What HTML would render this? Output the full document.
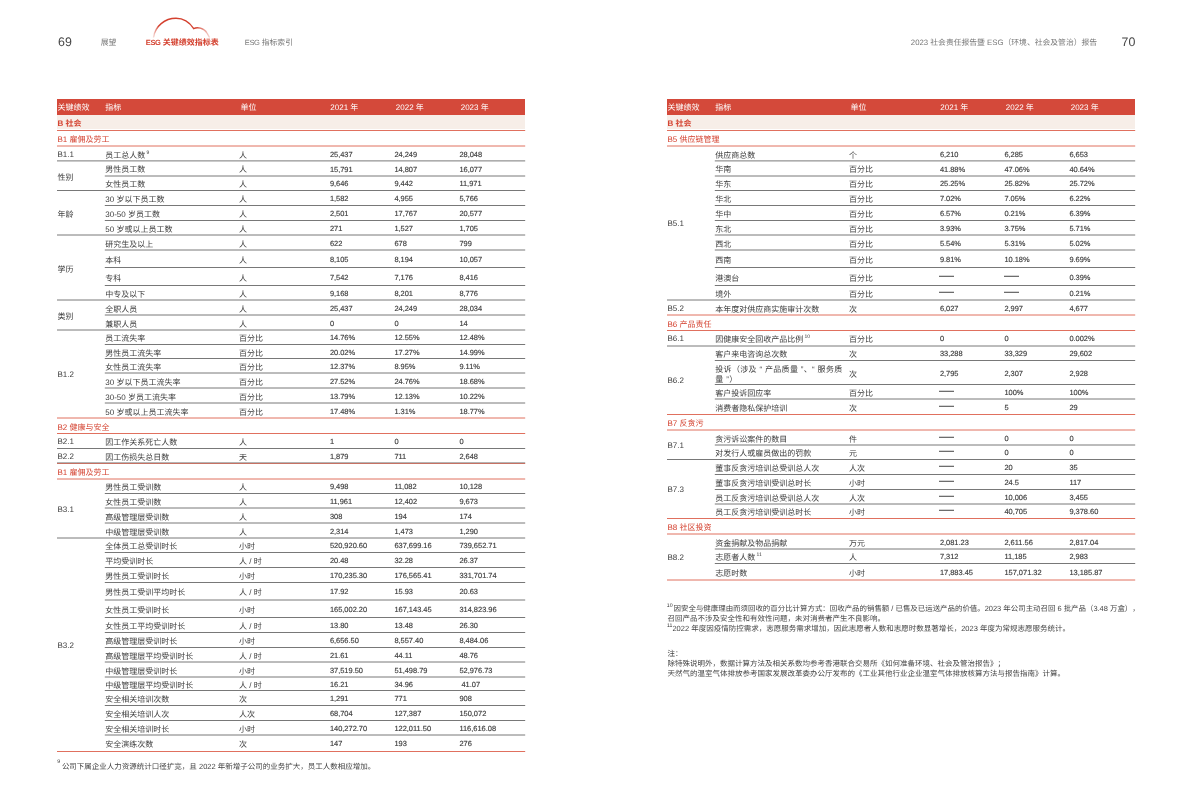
<!DOCTYPE html>
<html lang="zh-CN"><head><meta charset="utf-8"><title>ESG 关键绩效指标表</title>
<style>
*{margin:0;padding:0;box-sizing:border-box}
html,body{width:1192px;height:808px;background:#fff;overflow:hidden}
body{position:relative;text-rendering:geometricPrecision;text-spacing-trim:space-all;font-family:"Liberation Sans","Noto Sans CJK SC",sans-serif;color:#3c3c3c}
.t,.th,.tb,.ts{position:absolute;font-size:8.0px;line-height:1;white-space:nowrap;transform:translateY(calc(-50% + 1.5px))}
.th{color:#fff}
.lb{margin-top:-1px}
.n{font-size:7.45px;margin-left:0.6px;margin-top:-0.8px;-webkit-text-stroke:0.15px #3c3c3c}
.tb{color:#d4412f;font-weight:bold}
.ts{color:#d4412f}
.hdr{position:absolute;background:#d4493a}
.beige{position:absolute;background:#f7eee8}
.sup{font-size:5px;vertical-align:top;position:relative;top:-1.6px;margin-left:1.3px;color:#333}
.dash{display:inline-block;width:15px;height:1px;background:#444;vertical-align:middle;position:relative;top:-1.7px;left:-0.9px}
.wrap{display:inline-block;white-space:normal;width:129px;line-height:10px;letter-spacing:0.32px;position:relative;top:0.8px}
svg{position:absolute;left:0;top:0}
#tx{position:absolute;left:0;top:0;width:1192px;height:808px;will-change:transform}
.nav{position:absolute;font-size:7.8px;line-height:1;white-space:nowrap;color:#777;transform:translateY(calc(-50% + 1.2px))}
.pg{font-size:12.4px;color:#444;transform:translateY(-50%)}
.cur{color:#d4412f;font-weight:bold;font-size:8px}
.esg{font-size:7.5px;letter-spacing:-0.35px}
.fn{position:absolute;font-size:7.5px;line-height:1;white-space:nowrap;color:#444;transform:translateY(calc(-50% + 1.2px))}
.fsup{font-size:5.2px;vertical-align:top;position:relative;top:-0.7px;margin-right:1px;color:#333}
</style></head><body>

<svg width="1192" height="60" style="left:0;top:0" viewBox="0 0 1192 60">
<defs><linearGradient id="ag" x1="153" y1="0" x2="210" y2="0" gradientUnits="userSpaceOnUse">
<stop offset="0" stop-color="#d4412f" stop-opacity="0.15"/><stop offset="0.1" stop-color="#d4412f" stop-opacity="1"/>
<stop offset="0.75" stop-color="#d4412f" stop-opacity="1"/><stop offset="1" stop-color="#d4412f" stop-opacity="0.2"/></linearGradient></defs>
<path d="M153.4 37.5 C155 26 165 18.3 176 18.3 C184 18.3 190 23 193.7 28.6 C197 27 204 27.5 207 33 L209.6 37.5" fill="none" stroke="url(#ag)" stroke-width="1.4"/>
</svg>

<div id="tx"><div class="hdr" style="left:57.00px;top:99px;width:468.2px;height:16px"></div><div class="th" style="left:57.50px;top:106.20px;">关键绩效</div><div class="th" style="left:105.30px;top:106.20px;">指标</div><div class="th" style="left:240.50px;top:106.20px;">单位</div><div class="th" style="left:330.30px;top:106.20px;">2021 年</div><div class="th" style="left:395.80px;top:106.20px;">2022 年</div><div class="th" style="left:460.70px;top:106.20px;">2023 年</div><div class="beige" style="left:57.00px;top:115px;width:468.2px;height:14px"></div><div class="tb" style="left:57.50px;top:122.30px;">B 社会</div><div class="ts" style="left:57.50px;top:138.25px;">B1 雇佣及劳工</div><div class="t" style="left:105.30px;top:154.35px;">员工总人数<span class="sup">9</span></div><div class="t" style="left:239.00px;top:154.35px;">人</div><div class="t n" style="left:329.30px;top:153.45px;">25,437</div><div class="t n" style="left:393.80px;top:153.45px;">24,249</div><div class="t n" style="left:458.80px;top:153.45px;">28,048</div><div class="t lb" style="left:57.50px;top:154.15px;">B1.1</div><div class="t" style="left:105.30px;top:168.45px;">男性员工数</div><div class="t" style="left:239.00px;top:168.45px;">人</div><div class="t n" style="left:329.30px;top:168.45px;">15,791</div><div class="t n" style="left:393.80px;top:168.45px;">14,807</div><div class="t n" style="left:458.80px;top:168.45px;">16,077</div><div class="t" style="left:105.30px;top:183.25px;">女性员工数</div><div class="t" style="left:239.00px;top:183.25px;">人</div><div class="t n" style="left:329.30px;top:183.25px;">9,646</div><div class="t n" style="left:393.80px;top:183.25px;">9,442</div><div class="t n" style="left:458.80px;top:183.25px;">11,971</div><div class="t" style="left:57.50px;top:175.70px;">性别</div><div class="t" style="left:105.30px;top:198.00px;">30 岁以下员工数</div><div class="t" style="left:239.00px;top:198.00px;">人</div><div class="t n" style="left:329.30px;top:198.00px;">1,582</div><div class="t n" style="left:393.80px;top:198.00px;">4,955</div><div class="t n" style="left:458.80px;top:198.00px;">5,766</div><div class="t" style="left:105.30px;top:213.00px;">30-50 岁员工数</div><div class="t" style="left:239.00px;top:213.00px;">人</div><div class="t n" style="left:329.30px;top:213.00px;">2,501</div><div class="t n" style="left:393.80px;top:213.00px;">17,767</div><div class="t n" style="left:458.80px;top:213.00px;">20,577</div><div class="t" style="left:105.30px;top:227.75px;">50 岁或以上员工数</div><div class="t" style="left:239.00px;top:227.75px;">人</div><div class="t n" style="left:329.30px;top:227.75px;">271</div><div class="t n" style="left:393.80px;top:227.75px;">1,527</div><div class="t n" style="left:458.80px;top:227.75px;">1,705</div><div class="t" style="left:57.50px;top:212.75px;">年龄</div><div class="t" style="left:105.30px;top:242.50px;">研究生及以上</div><div class="t" style="left:239.00px;top:242.50px;">人</div><div class="t n" style="left:329.30px;top:242.50px;">622</div><div class="t n" style="left:393.80px;top:242.50px;">678</div><div class="t n" style="left:458.80px;top:242.50px;">799</div><div class="t" style="left:105.30px;top:258.75px;">本科</div><div class="t" style="left:239.00px;top:258.75px;">人</div><div class="t n" style="left:329.30px;top:258.75px;">8,105</div><div class="t n" style="left:393.80px;top:258.75px;">8,194</div><div class="t n" style="left:458.80px;top:258.75px;">10,057</div><div class="t" style="left:105.30px;top:276.50px;">专科</div><div class="t" style="left:239.00px;top:276.50px;">人</div><div class="t n" style="left:329.30px;top:276.50px;">7,542</div><div class="t n" style="left:393.80px;top:276.50px;">7,176</div><div class="t n" style="left:458.80px;top:276.50px;">8,416</div><div class="t" style="left:105.30px;top:292.75px;">中专及以下</div><div class="t" style="left:239.00px;top:292.75px;">人</div><div class="t n" style="left:329.30px;top:292.75px;">9,168</div><div class="t n" style="left:393.80px;top:292.75px;">8,201</div><div class="t n" style="left:458.80px;top:292.75px;">8,776</div><div class="t" style="left:57.50px;top:267.50px;">学历</div><div class="t" style="left:105.30px;top:307.50px;">全职人员</div><div class="t" style="left:239.00px;top:307.50px;">人</div><div class="t n" style="left:329.30px;top:307.50px;">25,437</div><div class="t n" style="left:393.80px;top:307.50px;">24,249</div><div class="t n" style="left:458.80px;top:307.50px;">28,034</div><div class="t" style="left:105.30px;top:322.50px;">兼职人员</div><div class="t" style="left:239.00px;top:322.50px;">人</div><div class="t n" style="left:329.30px;top:322.50px;">0</div><div class="t n" style="left:393.80px;top:322.50px;">0</div><div class="t n" style="left:458.80px;top:322.50px;">14</div><div class="t" style="left:57.50px;top:315.00px;">类别</div><div class="t" style="left:105.30px;top:337.25px;">员工流失率</div><div class="t" style="left:239.00px;top:337.25px;">百分比</div><div class="t n" style="left:329.30px;top:337.25px;">14.76%</div><div class="t n" style="left:393.80px;top:337.25px;">12.55%</div><div class="t n" style="left:458.80px;top:337.25px;">12.48%</div><div class="t" style="left:105.30px;top:351.50px;">男性员工流失率</div><div class="t" style="left:239.00px;top:351.50px;">百分比</div><div class="t n" style="left:329.30px;top:351.50px;">20.02%</div><div class="t n" style="left:393.80px;top:351.50px;">17.27%</div><div class="t n" style="left:458.80px;top:351.50px;">14.99%</div><div class="t" style="left:105.30px;top:365.75px;">女性员工流失率</div><div class="t" style="left:239.00px;top:365.75px;">百分比</div><div class="t n" style="left:329.30px;top:365.75px;">12.37%</div><div class="t n" style="left:393.80px;top:365.75px;">8.95%</div><div class="t n" style="left:458.80px;top:365.75px;">9.11%</div><div class="t" style="left:105.30px;top:380.50px;">30 岁以下员工流失率</div><div class="t" style="left:239.00px;top:380.50px;">百分比</div><div class="t n" style="left:329.30px;top:380.50px;">27.52%</div><div class="t n" style="left:393.80px;top:380.50px;">24.76%</div><div class="t n" style="left:458.80px;top:380.50px;">18.68%</div><div class="t" style="left:105.30px;top:395.50px;">30-50 岁员工流失率</div><div class="t" style="left:239.00px;top:395.50px;">百分比</div><div class="t n" style="left:329.30px;top:395.50px;">13.79%</div><div class="t n" style="left:393.80px;top:395.50px;">12.13%</div><div class="t n" style="left:458.80px;top:395.50px;">10.22%</div><div class="t" style="left:105.30px;top:410.50px;">50 岁或以上员工流失率</div><div class="t" style="left:239.00px;top:410.50px;">百分比</div><div class="t n" style="left:329.30px;top:410.50px;">17.48%</div><div class="t n" style="left:393.80px;top:410.50px;">1.31%</div><div class="t n" style="left:458.80px;top:410.50px;">18.77%</div><div class="t lb" style="left:57.50px;top:374.00px;">B1.2</div><div class="ts" style="left:57.50px;top:425.75px;">B2 健康与安全</div><div class="t" style="left:105.30px;top:441.00px;">因工作关系死亡人数</div><div class="t" style="left:239.00px;top:441.00px;">人</div><div class="t n" style="left:329.30px;top:441.00px;">1</div><div class="t n" style="left:393.80px;top:441.00px;">0</div><div class="t n" style="left:458.80px;top:441.00px;">0</div><div class="t lb" style="left:57.50px;top:441.00px;">B2.1</div><div class="t" style="left:105.30px;top:456.00px;">因工伤损失总日数</div><div class="t" style="left:239.00px;top:456.00px;">天</div><div class="t n" style="left:329.30px;top:456.00px;">1,879</div><div class="t n" style="left:393.80px;top:456.00px;">711</div><div class="t n" style="left:458.80px;top:456.00px;">2,648</div><div class="t lb" style="left:57.50px;top:456.00px;">B2.2</div><div class="ts" style="left:57.50px;top:471.25px;">B1 雇佣及劳工</div><div class="t" style="left:105.30px;top:486.25px;">男性员工受训数</div><div class="t" style="left:239.00px;top:486.25px;">人</div><div class="t n" style="left:329.30px;top:486.25px;">9,498</div><div class="t n" style="left:393.80px;top:486.25px;">11,082</div><div class="t n" style="left:458.80px;top:486.25px;">10,128</div><div class="t" style="left:105.30px;top:500.75px;">女性员工受训数</div><div class="t" style="left:239.00px;top:500.75px;">人</div><div class="t n" style="left:329.30px;top:500.75px;">11,961</div><div class="t n" style="left:393.80px;top:500.75px;">12,402</div><div class="t n" style="left:458.80px;top:500.75px;">9,673</div><div class="t" style="left:105.30px;top:515.50px;">高级管理层受训数</div><div class="t" style="left:239.00px;top:515.50px;">人</div><div class="t n" style="left:329.30px;top:515.50px;">308</div><div class="t n" style="left:393.80px;top:515.50px;">194</div><div class="t n" style="left:458.80px;top:515.50px;">174</div><div class="t" style="left:105.30px;top:530.50px;">中级管理层受训数</div><div class="t" style="left:239.00px;top:530.50px;">人</div><div class="t n" style="left:329.30px;top:530.50px;">2,314</div><div class="t n" style="left:393.80px;top:530.50px;">1,473</div><div class="t n" style="left:458.80px;top:530.50px;">1,290</div><div class="t lb" style="left:57.50px;top:508.50px;">B3.1</div><div class="t" style="left:105.30px;top:545.25px;">全体员工总受训时长</div><div class="t" style="left:239.00px;top:545.25px;">小时</div><div class="t n" style="left:329.30px;top:545.25px;">520,920.60</div><div class="t n" style="left:393.80px;top:545.25px;">637,699.16</div><div class="t n" style="left:458.80px;top:545.25px;">739,652.71</div><div class="t" style="left:105.30px;top:560.00px;">平均受训时长</div><div class="t" style="left:239.00px;top:560.00px;">人 / 时</div><div class="t n" style="left:329.30px;top:560.00px;">20.48</div><div class="t n" style="left:393.80px;top:560.00px;">32.28</div><div class="t n" style="left:458.80px;top:560.00px;">26.37</div><div class="t" style="left:105.30px;top:575.00px;">男性员工受训时长</div><div class="t" style="left:239.00px;top:575.00px;">小时</div><div class="t n" style="left:329.30px;top:575.00px;">170,235.30</div><div class="t n" style="left:393.80px;top:575.00px;">176,565.41</div><div class="t n" style="left:458.80px;top:575.00px;">331,701.74</div><div class="t" style="left:105.30px;top:591.25px;">男性员工受训平均时长</div><div class="t" style="left:239.00px;top:591.25px;">人 / 时</div><div class="t n" style="left:329.30px;top:591.25px;">17.92</div><div class="t n" style="left:393.80px;top:591.25px;">15.93</div><div class="t n" style="left:458.80px;top:591.25px;">20.63</div><div class="t" style="left:105.30px;top:608.75px;">女性员工受训时长</div><div class="t" style="left:239.00px;top:608.75px;">小时</div><div class="t n" style="left:329.30px;top:608.75px;">165,002.20</div><div class="t n" style="left:393.80px;top:608.75px;">167,143.45</div><div class="t n" style="left:458.80px;top:608.75px;">314,823.96</div><div class="t" style="left:105.30px;top:625.00px;">女性员工平均受训时长</div><div class="t" style="left:239.00px;top:625.00px;">人 / 时</div><div class="t n" style="left:329.30px;top:625.00px;">13.80</div><div class="t n" style="left:393.80px;top:625.00px;">13.48</div><div class="t n" style="left:458.80px;top:625.00px;">26.30</div><div class="t" style="left:105.30px;top:640.00px;">高级管理层受训时长</div><div class="t" style="left:239.00px;top:640.00px;">小时</div><div class="t n" style="left:329.30px;top:640.00px;">6,656.50</div><div class="t n" style="left:393.80px;top:640.00px;">8,557.40</div><div class="t n" style="left:458.80px;top:640.00px;">8,484.06</div><div class="t" style="left:105.30px;top:654.75px;">高级管理层平均受训时长</div><div class="t" style="left:239.00px;top:654.75px;">人 / 时</div><div class="t n" style="left:329.30px;top:654.75px;">21.61</div><div class="t n" style="left:393.80px;top:654.75px;">44.11</div><div class="t n" style="left:458.80px;top:654.75px;">48.76</div><div class="t" style="left:105.30px;top:669.50px;">中级管理层受训时长</div><div class="t" style="left:239.00px;top:669.50px;">小时</div><div class="t n" style="left:329.30px;top:669.50px;">37,519.50</div><div class="t n" style="left:393.80px;top:669.50px;">51,498.79</div><div class="t n" style="left:458.80px;top:669.50px;">52,976.73</div><div class="t" style="left:105.30px;top:683.75px;">中级管理层平均受训时长</div><div class="t" style="left:239.00px;top:683.75px;">人 / 时</div><div class="t n" style="left:329.30px;top:683.75px;">16.21</div><div class="t n" style="left:393.80px;top:683.75px;">34.96</div><div class="t n" style="left:458.80px;top:683.75px;">&nbsp;41.07</div><div class="t" style="left:105.30px;top:698.00px;">安全相关培训次数</div><div class="t" style="left:239.00px;top:698.00px;">次</div><div class="t n" style="left:329.30px;top:698.00px;">1,291</div><div class="t n" style="left:393.80px;top:698.00px;">771</div><div class="t n" style="left:458.80px;top:698.00px;">908</div><div class="t" style="left:105.30px;top:713.00px;">安全相关培训人次</div><div class="t" style="left:239.00px;top:713.00px;">人次</div><div class="t n" style="left:329.30px;top:713.00px;">68,704</div><div class="t n" style="left:393.80px;top:713.00px;">127,387</div><div class="t n" style="left:458.80px;top:713.00px;">150,072</div><div class="t" style="left:105.30px;top:727.75px;">安全相关培训时长</div><div class="t" style="left:239.00px;top:727.75px;">小时</div><div class="t n" style="left:329.30px;top:727.75px;">140,272.70</div><div class="t n" style="left:393.80px;top:727.75px;">122,011.50</div><div class="t n" style="left:458.80px;top:727.75px;">116,616.08</div><div class="t" style="left:105.30px;top:743.25px;">安全演练次数</div><div class="t" style="left:239.00px;top:743.25px;">次</div><div class="t n" style="left:329.30px;top:743.25px;">147</div><div class="t n" style="left:393.80px;top:743.25px;">193</div><div class="t n" style="left:458.80px;top:743.25px;">276</div><div class="t lb" style="left:57.50px;top:644.75px;">B3.2</div><div class="hdr" style="left:667.00px;top:99px;width:468.2px;height:16px"></div><div class="th" style="left:667.50px;top:106.20px;">关键绩效</div><div class="th" style="left:715.30px;top:106.20px;">指标</div><div class="th" style="left:850.50px;top:106.20px;">单位</div><div class="th" style="left:940.30px;top:106.20px;">2021 年</div><div class="th" style="left:1005.80px;top:106.20px;">2022 年</div><div class="th" style="left:1070.70px;top:106.20px;">2023 年</div><div class="beige" style="left:667.00px;top:115px;width:468.2px;height:14px"></div><div class="tb" style="left:667.50px;top:122.30px;">B 社会</div><div class="ts" style="left:667.50px;top:138.25px;">B5 供应链管理</div><div class="t" style="left:715.30px;top:154.35px;">供应商总数</div><div class="t" style="left:849.00px;top:154.35px;">个</div><div class="t n" style="left:939.30px;top:153.45px;">6,210</div><div class="t n" style="left:1003.80px;top:153.45px;">6,285</div><div class="t n" style="left:1068.80px;top:153.45px;">6,653</div><div class="t" style="left:715.30px;top:168.45px;">华南</div><div class="t" style="left:849.00px;top:168.45px;">百分比</div><div class="t n" style="left:939.30px;top:168.45px;">41.88%</div><div class="t n" style="left:1003.80px;top:168.45px;">47.06%</div><div class="t n" style="left:1068.80px;top:168.45px;">40.64%</div><div class="t" style="left:715.30px;top:183.25px;">华东</div><div class="t" style="left:849.00px;top:183.25px;">百分比</div><div class="t n" style="left:939.30px;top:183.25px;">25.25%</div><div class="t n" style="left:1003.80px;top:183.25px;">25.82%</div><div class="t n" style="left:1068.80px;top:183.25px;">25.72%</div><div class="t" style="left:715.30px;top:198.00px;">华北</div><div class="t" style="left:849.00px;top:198.00px;">百分比</div><div class="t n" style="left:939.30px;top:198.00px;">7.02%</div><div class="t n" style="left:1003.80px;top:198.00px;">7.05%</div><div class="t n" style="left:1068.80px;top:198.00px;">6.22%</div><div class="t" style="left:715.30px;top:213.00px;">华中</div><div class="t" style="left:849.00px;top:213.00px;">百分比</div><div class="t n" style="left:939.30px;top:213.00px;">6.57%</div><div class="t n" style="left:1003.80px;top:213.00px;">0.21%</div><div class="t n" style="left:1068.80px;top:213.00px;">6.39%</div><div class="t" style="left:715.30px;top:227.75px;">东北</div><div class="t" style="left:849.00px;top:227.75px;">百分比</div><div class="t n" style="left:939.30px;top:227.75px;">3.93%</div><div class="t n" style="left:1003.80px;top:227.75px;">3.75%</div><div class="t n" style="left:1068.80px;top:227.75px;">5.71%</div><div class="t" style="left:715.30px;top:242.50px;">西北</div><div class="t" style="left:849.00px;top:242.50px;">百分比</div><div class="t n" style="left:939.30px;top:242.50px;">5.54%</div><div class="t n" style="left:1003.80px;top:242.50px;">5.31%</div><div class="t n" style="left:1068.80px;top:242.50px;">5.02%</div><div class="t" style="left:715.30px;top:258.75px;">西南</div><div class="t" style="left:849.00px;top:258.75px;">百分比</div><div class="t n" style="left:939.30px;top:258.75px;">9.81%</div><div class="t n" style="left:1003.80px;top:258.75px;">10.18%</div><div class="t n" style="left:1068.80px;top:258.75px;">9.69%</div><div class="t" style="left:715.30px;top:276.50px;">港澳台</div><div class="t" style="left:849.00px;top:276.50px;">百分比</div><div class="t n" style="left:939.30px;top:276.50px;"><span class="dash"></span></div><div class="t n" style="left:1003.80px;top:276.50px;"><span class="dash"></span></div><div class="t n" style="left:1068.80px;top:276.50px;">0.39%</div><div class="t" style="left:715.30px;top:292.75px;">境外</div><div class="t" style="left:849.00px;top:292.75px;">百分比</div><div class="t n" style="left:939.30px;top:292.75px;"><span class="dash"></span></div><div class="t n" style="left:1003.80px;top:292.75px;"><span class="dash"></span></div><div class="t n" style="left:1068.80px;top:292.75px;">0.21%</div><div class="t lb" style="left:667.50px;top:223.00px;">B5.1</div><div class="t" style="left:715.30px;top:307.50px;">本年度对供应商实施审计次数</div><div class="t" style="left:849.00px;top:307.50px;">次</div><div class="t n" style="left:939.30px;top:307.50px;">6,027</div><div class="t n" style="left:1003.80px;top:307.50px;">2,997</div><div class="t n" style="left:1068.80px;top:307.50px;">4,677</div><div class="t lb" style="left:667.50px;top:307.50px;">B5.2</div><div class="ts" style="left:667.50px;top:322.75px;">B6 产品责任</div><div class="t" style="left:715.30px;top:338.25px;">因健康安全回收产品比例<span class="sup">10</span></div><div class="t" style="left:849.00px;top:338.25px;">百分比</div><div class="t n" style="left:939.30px;top:338.25px;">0</div><div class="t n" style="left:1003.80px;top:338.25px;">0</div><div class="t n" style="left:1068.80px;top:338.25px;">0.002%</div><div class="t lb" style="left:667.50px;top:338.25px;">B6.1</div><div class="t" style="left:715.30px;top:353.25px;">客户来电咨询总次数</div><div class="t" style="left:849.00px;top:353.25px;">次</div><div class="t n" style="left:939.30px;top:353.25px;">33,288</div><div class="t n" style="left:1003.80px;top:353.25px;">33,329</div><div class="t n" style="left:1068.80px;top:353.25px;">29,602</div><div class="t" style="left:715.30px;top:372.50px;"><span class="wrap">投诉（涉及 “ 产品质量 ”、“ 服务质量 ”）</span></div><div class="t" style="left:849.00px;top:372.50px;">次</div><div class="t n" style="left:939.30px;top:372.50px;">2,795</div><div class="t n" style="left:1003.80px;top:372.50px;">2,307</div><div class="t n" style="left:1068.80px;top:372.50px;">2,928</div><div class="t" style="left:715.30px;top:391.75px;">客户投诉回应率</div><div class="t" style="left:849.00px;top:391.75px;">百分比</div><div class="t n" style="left:939.30px;top:391.75px;"><span class="dash"></span></div><div class="t n" style="left:1003.80px;top:391.75px;">100%</div><div class="t n" style="left:1068.80px;top:391.75px;">100%</div><div class="t" style="left:715.30px;top:406.75px;">消费者隐私保护培训</div><div class="t" style="left:849.00px;top:406.75px;">次</div><div class="t n" style="left:939.30px;top:406.75px;"><span class="dash"></span></div><div class="t n" style="left:1003.80px;top:406.75px;">5</div><div class="t n" style="left:1068.80px;top:406.75px;">29</div><div class="t lb" style="left:667.50px;top:380.25px;">B6.2</div><div class="ts" style="left:667.50px;top:422.25px;">B7 反贪污</div><div class="t" style="left:715.30px;top:437.50px;">贪污诉讼案件的数目</div><div class="t" style="left:849.00px;top:437.50px;">件</div><div class="t n" style="left:939.30px;top:437.50px;"><span class="dash"></span></div><div class="t n" style="left:1003.80px;top:437.50px;">0</div><div class="t n" style="left:1068.80px;top:437.50px;">0</div><div class="t" style="left:715.30px;top:452.25px;">对发行人或雇员做出的罚款</div><div class="t" style="left:849.00px;top:452.25px;">元</div><div class="t n" style="left:939.30px;top:452.25px;"><span class="dash"></span></div><div class="t n" style="left:1003.80px;top:452.25px;">0</div><div class="t n" style="left:1068.80px;top:452.25px;">0</div><div class="t lb" style="left:667.50px;top:444.75px;">B7.1</div><div class="t" style="left:715.30px;top:467.00px;">董事反贪污培训总受训总人次</div><div class="t" style="left:849.00px;top:467.00px;">人次</div><div class="t n" style="left:939.30px;top:467.00px;"><span class="dash"></span></div><div class="t n" style="left:1003.80px;top:467.00px;">20</div><div class="t n" style="left:1068.80px;top:467.00px;">35</div><div class="t" style="left:715.30px;top:482.00px;">董事反贪污培训受训总时长</div><div class="t" style="left:849.00px;top:482.00px;">小时</div><div class="t n" style="left:939.30px;top:482.00px;"><span class="dash"></span></div><div class="t n" style="left:1003.80px;top:482.00px;">24.5</div><div class="t n" style="left:1068.80px;top:482.00px;">117</div><div class="t" style="left:715.30px;top:496.75px;">员工反贪污培训总受训总人次</div><div class="t" style="left:849.00px;top:496.75px;">人次</div><div class="t n" style="left:939.30px;top:496.75px;"><span class="dash"></span></div><div class="t n" style="left:1003.80px;top:496.75px;">10,006</div><div class="t n" style="left:1068.80px;top:496.75px;">3,455</div><div class="t" style="left:715.30px;top:511.25px;">员工反贪污培训受训总时长</div><div class="t" style="left:849.00px;top:511.25px;">小时</div><div class="t n" style="left:939.30px;top:511.25px;"><span class="dash"></span></div><div class="t n" style="left:1003.80px;top:511.25px;">40,705</div><div class="t n" style="left:1068.80px;top:511.25px;">9,378.60</div><div class="t lb" style="left:667.50px;top:489.00px;">B7.3</div><div class="ts" style="left:667.50px;top:526.25px;">B8 社区投资</div><div class="t" style="left:715.30px;top:541.50px;">资金捐献及物品捐献</div><div class="t" style="left:849.00px;top:541.50px;">万元</div><div class="t n" style="left:939.30px;top:541.50px;">2,081.23</div><div class="t n" style="left:1003.80px;top:541.50px;">2,611.56</div><div class="t n" style="left:1068.80px;top:541.50px;">2,817.04</div><div class="t" style="left:715.30px;top:556.25px;">志愿者人数<span class="sup">11</span></div><div class="t" style="left:849.00px;top:556.25px;">人</div><div class="t n" style="left:939.30px;top:556.25px;">7,312</div><div class="t n" style="left:1003.80px;top:556.25px;">11,185</div><div class="t n" style="left:1068.80px;top:556.25px;">2,983</div><div class="t" style="left:715.30px;top:571.75px;">志愿时数</div><div class="t" style="left:849.00px;top:571.75px;">小时</div><div class="t n" style="left:939.30px;top:571.75px;">17,883.45</div><div class="t n" style="left:1003.80px;top:571.75px;">157,071.32</div><div class="t n" style="left:1068.80px;top:571.75px;">13,185.87</div><div class="t lb" style="left:667.50px;top:557.00px;">B8.2</div><div class="nav pg" style="left:58.00px;top:41.90px;">69</div><div class="nav" style="left:100.80px;top:42.00px;">展望</div><div class="nav cur" style="left:145.80px;top:42.20px;"><span class="esg">ESG</span> 关键绩效指标表</div><div class="nav" style="left:244.80px;top:42.20px;"><span class="esg">ESG</span> 指标索引</div><div class="nav" style="left:910.80px;top:42.00px;">2023 社会责任报告暨 ESG（环境、社会及管治）报告</div><div class="nav pg" style="left:1121.50px;top:41.70px;">70</div><div class="fn" style="left:57.20px;top:765.50px;"><span class="fsup" style="margin-right:1.8px;top:-2.6px">9</span>公司下属企业人力资源统计口径扩宽，且 2022 年新增子公司的业务扩大，员工人数相应增加。</div><div class="fn" style="left:666.80px;top:608.00px;font-size:7.44px"><span class="fsup">10</span>因安全与健康理由而须回收的百分比计算方式：回收产品的销售额 / 已售及已运送产品的价值。2023 年公司主动召回 6 批产品（3.48 万盒），</div><div class="fn" style="left:667.40px;top:618.00px;">召回产品不涉及安全性和有效性问题，未对消费者产生不良影响。</div><div class="fn" style="left:667.00px;top:628.00px;"><span class="fsup" style="margin-right:0">11</span>2022 年度因疫情防控需求，志愿服务需求增加，因此志愿者人数和志愿时数显著增长，2023 年度为常规志愿服务统计。</div><div class="fn" style="left:667.40px;top:653.20px;">注：</div><div class="fn" style="left:667.40px;top:663.20px;">除特殊说明外，数据计算方法及相关系数均参考香港联合交易所《如何准备环境、社会及管治报告》；</div><div class="fn" style="left:667.40px;top:673.20px;">天然气的温室气体排放参考国家发展改革委办公厅发布的《工业其他行业企业温室气体排放核算方法与报告指南》计算。</div></div>
<svg width="1192" height="808" viewBox="0 0 1192 808"><line x1="57.00" y1="130.50" x2="525.20" y2="130.50" stroke="#e0705e" stroke-width="1.0"/><line x1="57.00" y1="146.00" x2="525.20" y2="146.00" stroke="#e0705e" stroke-width="1.0"/><line x1="57.00" y1="160.90" x2="525.20" y2="160.90" stroke="#787878" stroke-width="1.0"/><line x1="104.80" y1="176.00" x2="525.20" y2="176.00" stroke="#787878" stroke-width="1.0"/><line x1="57.00" y1="190.50" x2="525.20" y2="190.50" stroke="#787878" stroke-width="1.0"/><line x1="104.80" y1="205.50" x2="525.20" y2="205.50" stroke="#787878" stroke-width="1.0"/><line x1="104.80" y1="220.50" x2="525.20" y2="220.50" stroke="#787878" stroke-width="1.0"/><line x1="57.00" y1="235.00" x2="525.20" y2="235.00" stroke="#787878" stroke-width="1.0"/><line x1="104.80" y1="250.00" x2="525.20" y2="250.00" stroke="#787878" stroke-width="1.0"/><line x1="104.80" y1="267.50" x2="525.20" y2="267.50" stroke="#787878" stroke-width="1.0"/><line x1="104.80" y1="285.50" x2="525.20" y2="285.50" stroke="#787878" stroke-width="1.0"/><line x1="57.00" y1="300.00" x2="525.20" y2="300.00" stroke="#787878" stroke-width="1.0"/><line x1="104.80" y1="315.00" x2="525.20" y2="315.00" stroke="#787878" stroke-width="1.0"/><line x1="57.00" y1="330.00" x2="525.20" y2="330.00" stroke="#787878" stroke-width="1.0"/><line x1="104.80" y1="344.50" x2="525.20" y2="344.50" stroke="#787878" stroke-width="1.0"/><line x1="104.80" y1="358.50" x2="525.20" y2="358.50" stroke="#787878" stroke-width="1.0"/><line x1="104.80" y1="373.00" x2="525.20" y2="373.00" stroke="#787878" stroke-width="1.0"/><line x1="104.80" y1="388.00" x2="525.20" y2="388.00" stroke="#787878" stroke-width="1.0"/><line x1="104.80" y1="403.00" x2="525.20" y2="403.00" stroke="#787878" stroke-width="1.0"/><line x1="57.00" y1="418.00" x2="525.20" y2="418.00" stroke="#e0705e" stroke-width="1.0"/><line x1="57.00" y1="433.50" x2="525.20" y2="433.50" stroke="#e0705e" stroke-width="1.0"/><line x1="57.00" y1="448.50" x2="525.20" y2="448.50" stroke="#787878" stroke-width="1.0"/><line x1="57.00" y1="463.50" x2="525.20" y2="463.50" stroke="#e0705e" stroke-width="1.0"/><line x1="57.00" y1="479.00" x2="525.20" y2="479.00" stroke="#e0705e" stroke-width="1.0"/><line x1="104.80" y1="493.50" x2="525.20" y2="493.50" stroke="#787878" stroke-width="1.0"/><line x1="104.80" y1="508.00" x2="525.20" y2="508.00" stroke="#787878" stroke-width="1.0"/><line x1="104.80" y1="523.00" x2="525.20" y2="523.00" stroke="#787878" stroke-width="1.0"/><line x1="57.00" y1="538.00" x2="525.20" y2="538.00" stroke="#787878" stroke-width="1.0"/><line x1="104.80" y1="552.50" x2="525.20" y2="552.50" stroke="#787878" stroke-width="1.0"/><line x1="104.80" y1="567.50" x2="525.20" y2="567.50" stroke="#787878" stroke-width="1.0"/><line x1="104.80" y1="582.50" x2="525.20" y2="582.50" stroke="#787878" stroke-width="1.0"/><line x1="104.80" y1="600.00" x2="525.20" y2="600.00" stroke="#787878" stroke-width="1.0"/><line x1="104.80" y1="617.50" x2="525.20" y2="617.50" stroke="#787878" stroke-width="1.0"/><line x1="104.80" y1="632.50" x2="525.20" y2="632.50" stroke="#787878" stroke-width="1.0"/><line x1="104.80" y1="647.50" x2="525.20" y2="647.50" stroke="#787878" stroke-width="1.0"/><line x1="104.80" y1="662.00" x2="525.20" y2="662.00" stroke="#787878" stroke-width="1.0"/><line x1="104.80" y1="677.00" x2="525.20" y2="677.00" stroke="#787878" stroke-width="1.0"/><line x1="104.80" y1="690.50" x2="525.20" y2="690.50" stroke="#787878" stroke-width="1.0"/><line x1="104.80" y1="705.50" x2="525.20" y2="705.50" stroke="#787878" stroke-width="1.0"/><line x1="104.80" y1="720.50" x2="525.20" y2="720.50" stroke="#787878" stroke-width="1.0"/><line x1="104.80" y1="735.00" x2="525.20" y2="735.00" stroke="#787878" stroke-width="1.0"/><line x1="57.00" y1="751.50" x2="525.20" y2="751.50" stroke="#e0705e" stroke-width="1.0"/><line x1="57.00" y1="462.80" x2="525.20" y2="462.80" stroke="#787878" stroke-width="0.8"/><line x1="667.00" y1="130.50" x2="1135.20" y2="130.50" stroke="#e0705e" stroke-width="1.0"/><line x1="667.00" y1="146.00" x2="1135.20" y2="146.00" stroke="#e0705e" stroke-width="1.0"/><line x1="714.80" y1="160.90" x2="1135.20" y2="160.90" stroke="#787878" stroke-width="1.0"/><line x1="714.80" y1="176.00" x2="1135.20" y2="176.00" stroke="#787878" stroke-width="1.0"/><line x1="714.80" y1="190.50" x2="1135.20" y2="190.50" stroke="#787878" stroke-width="1.0"/><line x1="714.80" y1="205.50" x2="1135.20" y2="205.50" stroke="#787878" stroke-width="1.0"/><line x1="714.80" y1="220.50" x2="1135.20" y2="220.50" stroke="#787878" stroke-width="1.0"/><line x1="714.80" y1="235.00" x2="1135.20" y2="235.00" stroke="#787878" stroke-width="1.0"/><line x1="714.80" y1="250.00" x2="1135.20" y2="250.00" stroke="#787878" stroke-width="1.0"/><line x1="714.80" y1="267.50" x2="1135.20" y2="267.50" stroke="#787878" stroke-width="1.0"/><line x1="714.80" y1="285.50" x2="1135.20" y2="285.50" stroke="#787878" stroke-width="1.0"/><line x1="667.00" y1="300.00" x2="1135.20" y2="300.00" stroke="#787878" stroke-width="1.0"/><line x1="667.00" y1="315.00" x2="1135.20" y2="315.00" stroke="#e0705e" stroke-width="1.0"/><line x1="667.00" y1="330.50" x2="1135.20" y2="330.50" stroke="#e0705e" stroke-width="1.0"/><line x1="667.00" y1="346.00" x2="1135.20" y2="346.00" stroke="#787878" stroke-width="1.0"/><line x1="714.80" y1="360.50" x2="1135.20" y2="360.50" stroke="#787878" stroke-width="1.0"/><line x1="714.80" y1="384.50" x2="1135.20" y2="384.50" stroke="#787878" stroke-width="1.0"/><line x1="714.80" y1="399.00" x2="1135.20" y2="399.00" stroke="#787878" stroke-width="1.0"/><line x1="667.00" y1="414.50" x2="1135.20" y2="414.50" stroke="#e0705e" stroke-width="1.0"/><line x1="667.00" y1="430.00" x2="1135.20" y2="430.00" stroke="#e0705e" stroke-width="1.0"/><line x1="714.80" y1="445.00" x2="1135.20" y2="445.00" stroke="#787878" stroke-width="1.0"/><line x1="667.00" y1="459.50" x2="1135.20" y2="459.50" stroke="#787878" stroke-width="1.0"/><line x1="714.80" y1="474.50" x2="1135.20" y2="474.50" stroke="#787878" stroke-width="1.0"/><line x1="714.80" y1="489.50" x2="1135.20" y2="489.50" stroke="#787878" stroke-width="1.0"/><line x1="714.80" y1="504.00" x2="1135.20" y2="504.00" stroke="#787878" stroke-width="1.0"/><line x1="667.00" y1="518.50" x2="1135.20" y2="518.50" stroke="#e0705e" stroke-width="1.0"/><line x1="667.00" y1="534.00" x2="1135.20" y2="534.00" stroke="#e0705e" stroke-width="1.0"/><line x1="714.80" y1="549.00" x2="1135.20" y2="549.00" stroke="#787878" stroke-width="1.0"/><line x1="714.80" y1="563.50" x2="1135.20" y2="563.50" stroke="#787878" stroke-width="1.0"/><line x1="667.00" y1="580.00" x2="1135.20" y2="580.00" stroke="#e0705e" stroke-width="1.0"/></svg>

</body></html>
